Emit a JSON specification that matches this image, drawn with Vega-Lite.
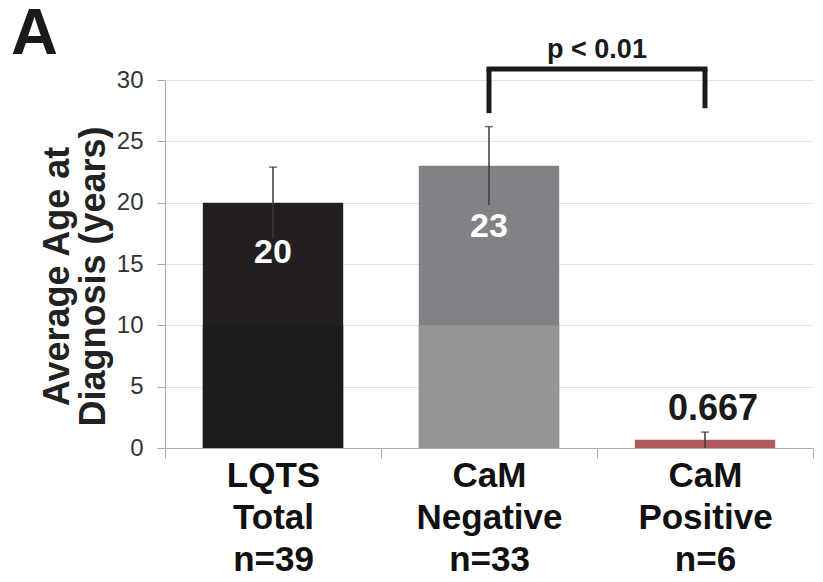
{
  "$schema": "https://vega.github.io/schema/vega-lite/v6.json",
  "width": 648,
  "height": 368,
  "autosize": "none",
  "padding": {"left": 165, "top": 80, "right": 10, "bottom": 134},
  "background": "white",
  "title": {
    "text": "A",
    "anchor": "start",
    "frame": "group",
    "font": "Liberation Sans",
    "fontSize": 65,
    "fontWeight": "bold",
    "color": "#1a1a1a",
    "dx": -154,
    "dy": 32,
    "offset": 0
  },
  "config": {
    "view": {"stroke": null},
    "axis": {"labelFont": "Liberation Sans", "titleFont": "Liberation Sans"}
  },
  "datasets": {
    "bars": [
      {"group": "LQTS|Total|n=39", "value": 20, "low": 17.1, "high": 22.9, "label": "20"},
      {"group": "CaM|Negative|n=33", "value": 23, "low": 19.8, "high": 26.2, "label": "23"},
      {"group": "CaM|Positive|n=6", "value": 0.667, "low": 0.02, "high": 1.3, "label": "0.667"}
    ],
    "bracket": [
      {"from": "CaM|Negative|n=33", "to": "CaM|Positive|n=6", "y": 30.9, "text": "p < 0.01"}
    ],
    "legs": [
      {"group": "CaM|Negative|n=33", "top": 30.9, "bottom": 27.3},
      {"group": "CaM|Positive|n=6", "top": 30.9, "bottom": 27.7}
    ]
  },
  "layer": [
    {
      "data": {"name": "bars"},
      "mark": {"type": "bar", "width": {"band": 0.65}},
      "encoding": {
        "x": {
          "field": "group",
          "type": "nominal",
          "sort": null,
          "scale": {"paddingInner": 0, "paddingOuter": 0},
          "axis": {
            "title": null,
            "labelAngle": 0,
            "labelExpr": "split(datum.label, '|')",
            "labelFont": "Liberation Sans",
            "labelFontSize": 35,
            "labelFontWeight": "bold",
            "labelColor": "#111111",
            "labelLineHeight": 42,
            "labelPadding": 0,
            "labelBaseline": "top",
            "tickBand": "extent",
            "tickSize": 10,
            "tickColor": "#aaaaaa",
            "domainColor": "#aaaaaa",
            "grid": false
          }
        },
        "y": {
          "field": "value",
          "type": "quantitative",
          "scale": {"domain": [0, 30], "nice": false},
          "axis": {
            "values": [0, 5, 10, 15, 20, 25, 30],
            "title": ["Average Age at", "Diagnosis (years)"],
            "titleFontSize": 36,
            "titleFontWeight": "bold",
            "titleColor": "#222222",
            "titleLineHeight": 36,
            "titlePadding": 4,
            "titleY": 196,
            "labelFontSize": 24,
            "labelColor": "#333333",
            "labelPadding": 14,
            "tickSize": 8,
            "tickColor": "#aaaaaa",
            "domainColor": "#aaaaaa",
            "gridColor": "#e3e3e3"
          }
        },
        "color": {
          "field": "group",
          "type": "nominal",
          "sort": null,
          "scale": {"range": ["#231f20", "#808285", "#b05b5b"]},
          "legend": null
        }
      }
    },
    {
      "data": {"name": "bars"},
      "transform": [{"filter": "datum.value > 10"}],
      "mark": {"type": "bar", "width": {"band": 0.65}},
      "encoding": {
        "x": {"field": "group", "type": "nominal", "sort": null},
        "y": {"datum": 10, "type": "quantitative"},
        "y2": {"datum": 0},
        "color": {
          "condition": {"test": "datum.label === '23'", "value": "#959595"},
          "value": "#1c1c1c"
        }
      }
    },
    {
      "data": {"name": "bars"},
      "mark": {"type": "rule", "color": "#3a3a3a", "strokeWidth": 1.5},
      "encoding": {
        "x": {"field": "group", "type": "nominal", "sort": null},
        "y": {"field": "low", "type": "quantitative"},
        "y2": {"field": "high"}
      }
    },
    {
      "data": {"name": "bars"},
      "mark": {"type": "tick", "color": "#3a3a3a", "thickness": 1.5, "size": 8, "orient": "horizontal"},
      "encoding": {
        "x": {"field": "group", "type": "nominal", "sort": null},
        "y": {"field": "high", "type": "quantitative"}
      }
    },
    {
      "data": {"name": "bars"},
      "transform": [{"filter": "datum.label === '20'"}],
      "mark": {"type": "text", "color": "white", "font": "Liberation Sans", "fontSize": 34, "fontWeight": "bold", "baseline": "middle", "dy": 50},
      "encoding": {
        "x": {"field": "group", "type": "nominal", "sort": null},
        "y": {"field": "value", "type": "quantitative"},
        "text": {"field": "label"}
      }
    },
    {
      "data": {"name": "bars"},
      "transform": [{"filter": "datum.label === '23'"}],
      "mark": {"type": "text", "color": "white", "font": "Liberation Sans", "fontSize": 34, "fontWeight": "bold", "baseline": "middle", "dy": 61},
      "encoding": {
        "x": {"field": "group", "type": "nominal", "sort": null},
        "y": {"field": "value", "type": "quantitative"},
        "text": {"field": "label"}
      }
    },
    {
      "data": {"name": "bars"},
      "transform": [{"filter": "datum.label === '0.667'"}],
      "mark": {"type": "text", "color": "#1a1a1a", "font": "Liberation Sans", "fontSize": 36, "fontWeight": "bold", "baseline": "middle", "dy": -31, "dx": 8},
      "encoding": {
        "x": {"field": "group", "type": "nominal", "sort": null},
        "y": {"field": "value", "type": "quantitative"},
        "text": {"field": "label"}
      }
    },
    {
      "data": {"name": "bracket"},
      "mark": {"type": "rule", "color": "#1a1a1a", "strokeWidth": 5, "strokeCap": "square"},
      "encoding": {
        "x": {"field": "from", "type": "nominal", "sort": null},
        "x2": {"field": "to"},
        "y": {"field": "y", "type": "quantitative"}
      }
    },
    {
      "data": {"name": "legs"},
      "mark": {"type": "rule", "color": "#1a1a1a", "strokeWidth": 5, "strokeCap": "butt"},
      "encoding": {
        "x": {"field": "group", "type": "nominal", "sort": null},
        "y": {"field": "top", "type": "quantitative"},
        "y2": {"field": "bottom"}
      }
    },
    {
      "data": {"name": "bracket"},
      "mark": {"type": "text", "color": "#1a1a1a", "font": "Liberation Sans", "fontSize": 27, "fontWeight": "bold", "baseline": "alphabetic", "dy": -11},
      "encoding": {
        "x": {"field": "from", "type": "nominal", "sort": null, "bandPosition": 1},
        "y": {"field": "y", "type": "quantitative"},
        "text": {"field": "text"}
      }
    }
  ]
}
